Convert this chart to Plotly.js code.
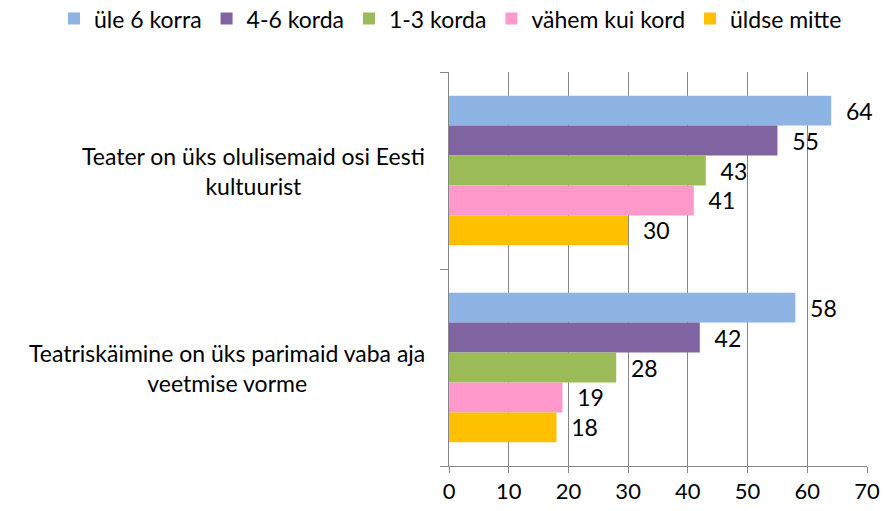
<!DOCTYPE html>
<html>
<head>
<meta charset="utf-8">
<script src="https://cdn.plot.ly/plotly-3.0.1.min.js"></script>
<style>html,body{margin:0;padding:0;background:#fff;}#chart{width:883px;height:511px;}</style>
</head>
<body>
<div id="chart"></div>
<script>
var categories = ["Teater on üks olulisemaid osi Eesti<br>kultuurist", "Teatriskäimine on üks parimaid vaba aja<br>veetmise vorme"];
var seriesNames = ["üle 6 korra", "4-6 korda", "1-3 korda", "vähem kui kord", "üldse mitte"];
var seriesColors = ["#8EB4E3", "#8064A2", "#9BBB59", "#FF99CC", "#FFC000"];
var ule6 = [64, 58];
var korda46 = [55, 42];
var korda13 = [43, 28];
var vahem = [41, 19];
var uldse = [30, 18];
var xTicks = [0, 10, 20, 30, 40, 50, 60, 70];

var FONT = "Lato, 'Open Sans', sans-serif";
var values = [ule6, korda46, korda13, vahem, uldse];
var traces = values.map(function (v, i) {
  return {
    type: "bar",
    orientation: "h",
    name: seriesNames[i],
    x: v,
    y: [0, 1],
    marker: { color: seriesColors[i], line: { width: 0 } },
    text: v.map(function (d) { return "\u00a0\u00a0" + d; }),
    textposition: "outside",
    cliponaxis: false,
    constraintext: "none",
    textfont: { family: FONT, size: 23, color: "#000" },
    hoverinfo: "x+name"
  };
});

var annotations = categories.map(function (c, i) {
  return {
    xref: "paper", yref: "y",
    x: -22 / 418, y: i,
    xanchor: "right", yanchor: "middle",
    align: "center",
    text: c,
    showarrow: false,
    font: { family: FONT, size: 23, color: "#000" }
  };
});

var layout = {
  width: 883, height: 511,
  margin: { l: 449, r: 16, t: 72, b: 45, pad: 0, autoexpand: false },
  paper_bgcolor: "#fff", plot_bgcolor: "#fff",
  barmode: "group",
  bargap: 0.24,
  bargroupgap: 0,
  font: { family: FONT, size: 22, color: "#000" },
  showlegend: true,
  legend: {
    orientation: "h",
    xref: "paper", yref: "paper",
    x: -0.945, xanchor: "left",
    y: 1.19, yanchor: "top",
    font: { family: FONT, size: 23, color: "#000" },
    tracegroupgap: 0
  },
  xaxis: {
    range: [0, 70],
    tickvals: xTicks,
    ticktext: xTicks.map(String),
    showgrid: true, gridcolor: "#868686", gridwidth: 1,
    zeroline: false,
    showline: true, linecolor: "#868686", linewidth: 1,
    ticks: "outside", ticklen: 6, tickcolor: "#868686",
    tickfont: { family: FONT, size: 22, color: "#000" },
    fixedrange: true
  },
  yaxis: {
    type: "linear",
    range: [1.5, -0.5],
    tickvals: [-0.5, 0.5, 1.5],
    showticklabels: false,
    showgrid: false, zeroline: false,
    showline: true, linecolor: "#868686", linewidth: 1,
    ticks: "outside", ticklen: 8, tickcolor: "#868686",
    fixedrange: true
  },
  annotations: annotations
};

Plotly.newPlot("chart", traces, layout, { displayModeBar: false, staticPlot: true });
</script>
</body>
</html>
